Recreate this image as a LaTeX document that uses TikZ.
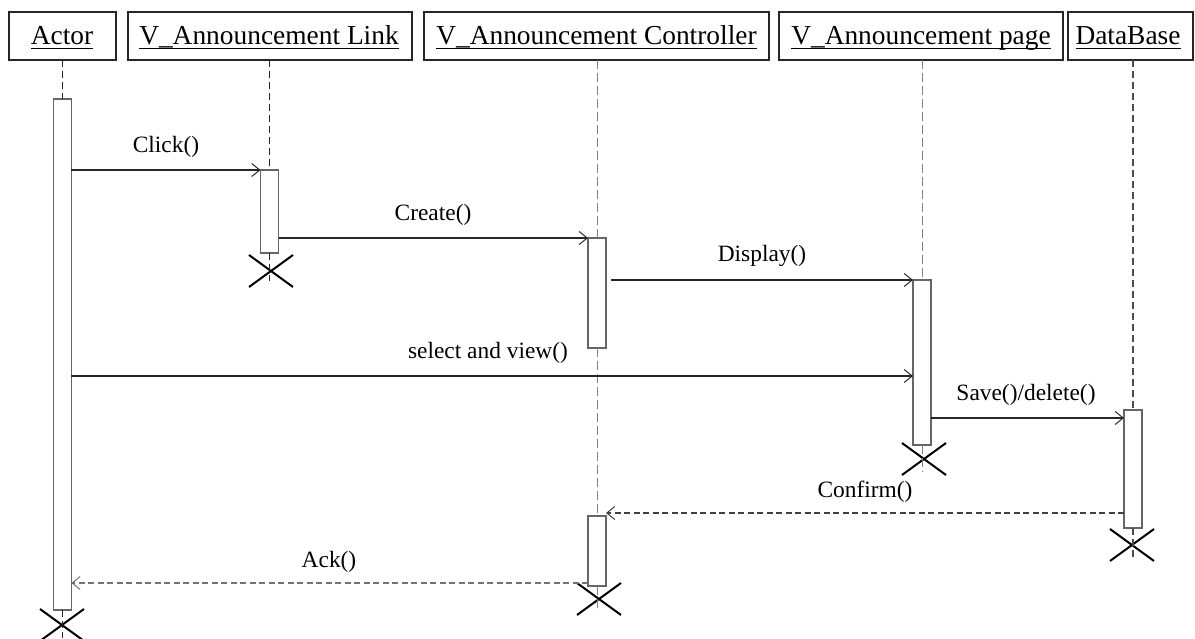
\documentclass[tikz,border=0pt]{standalone}
\usepackage{fontspec}
\setmainfont{Liberation Serif}
\usetikzlibrary{arrows.meta,shapes.misc,calc}
\begin{document}
\begin{tikzpicture}[x=1pt,y=-1pt,
  every node/.style={inner sep=0pt,outer sep=0pt},
  hdr/.style={draw=black!85,line width=1.1pt,minimum height=48pt},
  htxt/.style={anchor=base,font=\fontsize{27.4}{32}\selectfont},
  lbl/.style={anchor=base,font=\fontsize{23.4}{28}\selectfont},
  bar/.style={draw=black!60,fill=white,line width=1.1pt,minimum width=18pt},
  kill/.style={cross out,draw=black,line width=2pt,minimum width=44pt,minimum height=32pt},
  msg/.style={draw=black!85,line width=1.1pt,-{Straight Barb[length=8pt,width=13pt,line width=1pt]}},
  reply/.style={msg,dash pattern=on 6pt off 3.5pt},
  life/.style={draw=black!85,line width=1.1pt,dash pattern=on 7pt off 4pt},
  lifelight/.style={draw=black!50,line width=0.9pt,dash pattern=on 9pt off 4pt},
]
\useasboundingbox (0,0) rectangle (1195,639);

% object headers
\node[hdr,minimum width=107pt] (hA) at (62.5,36) {};
\node[hdr,minimum width=284pt] (hL) at (270,36) {};
\node[hdr,minimum width=345pt] (hC) at (596.5,36) {};
\node[hdr,minimum width=284pt] (hP) at (921,36) {};
\node[hdr,minimum width=125pt] (hD) at (1130.5,36) {};

\node[htxt] (tA) at (62,45) {Actor};
\node[htxt] (tL) at (269,45) {V\_Announcement Link};
\node[htxt] (tC) at (596.5,45) {V\_Announcement Controller};
\node[htxt] (tP) at (921,45) {V\_Announcement page};
\node[htxt] (tD) at (1128,45) {DataBase};
\foreach \t in {tA,tL,tC,tP,tD}
  \draw[line width=0.9pt] ([yshift=-3pt]\t.base west) -- ([yshift=-3pt]\t.base east);

% activation bars
\node[bar,minimum height=511pt] (aA) at (62.3,354.5) {};
\node[bar,minimum height=83pt] (aL) at (269.5,211.5) {};
\node[bar,minimum height=110pt] (aC1) at (597,293) {};
\node[bar,minimum height=165pt] (aP) at (922,362.5) {};
\node[bar,minimum height=118pt] (aD) at (1133,469) {};
\node[bar,minimum height=70pt] (aC2) at (597,551) {};

% destruction marks
\node[kill] (xA) at (62,625) {};
\node[kill] (xL) at (271,271) {};
\node[kill] (xC) at (599,599) {};
\node[kill] (xP) at (924,459) {};
\node[kill] (xD) at (1132,545) {};

% lifelines
\draw[life] (aA.north |- hA.south) -- (aA.north);
\draw[life] (aA.south) -- ([yshift=3pt]aA.south |- xA.south);
\draw[life] (aL.north |- hL.south) -- (aL.north);
\draw[life] (aL.south) -- ([yshift=6pt]aL.south |- xL.south);
\draw[lifelight] (aC1.north |- hC.south) -- (aC1.north);
\draw[lifelight] (aC1.south) -- (aC2.north);
\draw[lifelight] (aC2.south) -- ([yshift=3pt]aC2.south |- xC.south);
\draw[lifelight] (aP.north |- hP.south) -- (aP.north);
\draw[lifelight] (aP.south) -- ([yshift=3pt]aP.south |- xP.south);
\draw[life,draw=black!70,line width=1.3pt] (aD.north |- hD.south) -- (aD.north);
\draw[life,draw=black!70,line width=1.3pt] (aD.south) -- ([yshift=3pt]aD.south |- xD.south);

% messages
\draw[msg] (aA.east |- aL.north) -- (aL.north west);
\draw[msg] (aL.east |- aC1.north) -- (aC1.north west);
\draw[msg] ([xshift=5pt]aC1.east |- aP.north) -- (aP.north west);
\draw[msg] (aA.east |- 0,376) -- (aP.west |- 0,376);
\draw[msg] (aP.east |- 0,418) -- (aD.west |- 0,418);
\draw[reply,draw=black!75] (aD.west |- 0,513) -- (aC2.east |- 0,513);
\draw[reply,draw=black!55] (aC2.west |- 0,583) -- (aA.east |- 0,583);

% message labels
\node[lbl] (lClick) at (166,153) {Click()};
\node[lbl] (lCreate) at (433,221) {Create()};
\node[lbl] (lDisplay) at (762,262) {Display()};
\node[lbl] (lSelect) at (488,358) {select and view()};
\node[lbl] (lSave) at (1026,400) {Save()/delete()};
\node[lbl] (lConfirm) at (865,497) {Confirm()};
\node[lbl] (lAck) at (329,567) {Ack()};
\end{tikzpicture}
\end{document}
